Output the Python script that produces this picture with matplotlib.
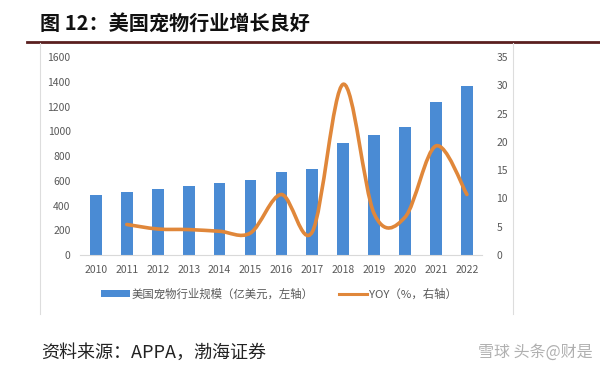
import numpy as np
import matplotlib
matplotlib.use('Agg')
import matplotlib.pyplot as plt
from matplotlib.path import Path
from matplotlib.patches import PathPatch, Patch
from matplotlib.lines import Line2D

plt.rcParams['font.family'] = ['Noto Sans CJK SC', 'DejaVu Sans']

years = ['2010', '2011', '2012', '2013', '2014', '2015', '2016',
         '2017', '2018', '2019', '2020', '2021', '2022']
market_size = [483.5, 509.6, 533.3, 557.2, 580.4, 602.8, 667.5,
               695.1, 905.0, 971.0, 1036.0, 1236.0, 1368.0]
yoy_years = years[1:]
yoy = [5.4, 4.6, 4.5, 4.2, 3.9, 10.7, 4.1, 30.2, 7.3, 6.7, 19.3, 10.7]

title = '图 12：美国宠物行业增长良好'
source = '资料来源：APPA，渤海证券'
bar_label = '美国宠物行业规模（亿美元，左轴）'
line_label = 'YOY（%，右轴）'

blue = '#4a8bd4'
orange = '#e0873a'
grey = '#595959'

fig = plt.figure(figsize=(6, 3.72), dpi=100)
ax = fig.add_axes([0.134, 0.3145, 0.670, 0.532])
ax2 = ax.twinx()

x = np.arange(len(years))
ax.bar(x, market_size, width=0.38, color=blue, zorder=2)
ax.set_xlim(-0.5, len(years) - 0.5)
ax.set_ylim(0, 1600)
ax.set_yticks(range(0, 1601, 200))
ax.set_xticks(x)
ax.set_xticklabels(years)
ax2.set_ylim(0, 35)
ax2.set_yticks(range(0, 36, 5))

# smoothed line like Excel (bezier segments through the data points)
xs = np.array([years.index(y) for y in yoy_years], dtype=float)
pts = np.column_stack([xs, yoy])
verts = [pts[0]]
codes = [Path.MOVETO]
n = len(pts)
for i in range(n - 1):
    p0 = pts[i - 1] if i > 0 else pts[i]
    p1 = pts[i]
    p2 = pts[i + 1]
    p3 = pts[i + 2] if i + 2 < n else pts[i + 1]
    c1 = p1 + (p2 - p0) / 6.0
    c2 = p2 - (p3 - p1) / 6.0
    verts += [c1, c2, p2]
    codes += [Path.CURVE4] * 3
ax2.add_patch(PathPatch(Path(verts, codes), facecolor='none',
                        edgecolor=orange, lw=2.6, capstyle='round', zorder=3))

for a in (ax, ax2):
    for s in a.spines.values():
        s.set_visible(False)
    a.tick_params(length=0, labelsize=7.5, colors=grey)
ax.spines['bottom'].set_visible(True)
ax.spines['bottom'].set_color('#d9d9d9')
ax.tick_params(axis='y', pad=7)
ax.tick_params(axis='x', pad=7)
ax2.tick_params(axis='y', pad=10)

handles = [Patch(facecolor=blue, label=bar_label),
           Line2D([0], [0], color=orange, lw=2.2, label=line_label)]
fig.legend(handles=handles, loc='center', bbox_to_anchor=(0.465, 0.21),
           ncol=2, frameon=False, fontsize=8.2, labelcolor=grey,
           handlelength=2.5, handleheight=0.55, columnspacing=2.2,
           handletextpad=0.15)

fig.text(0.066, 0.938, title, fontsize=14.5, fontweight='bold',
         ha='left', va='center', color='#111111')
fig.add_artist(Line2D([0.045, 1.0], [0.887, 0.887], color='#5a1f1f', lw=2))
fig.add_artist(Line2D([0.066, 0.066], [0.155, 0.885], color='#dddddd', lw=0.8))
fig.add_artist(Line2D([0.855, 0.855], [0.155, 0.885], color='#dddddd', lw=0.8))

fig.text(0.068, 0.052, source, fontsize=13, fontstyle='italic',
         ha='left', va='center', color='#222222')
fig.text(0.987, 0.052, '雪球 头条@财是', fontsize=11.5, ha='right',
         va='center', color='#b0b0b0')

fig.savefig('out.png', dpi=100)
